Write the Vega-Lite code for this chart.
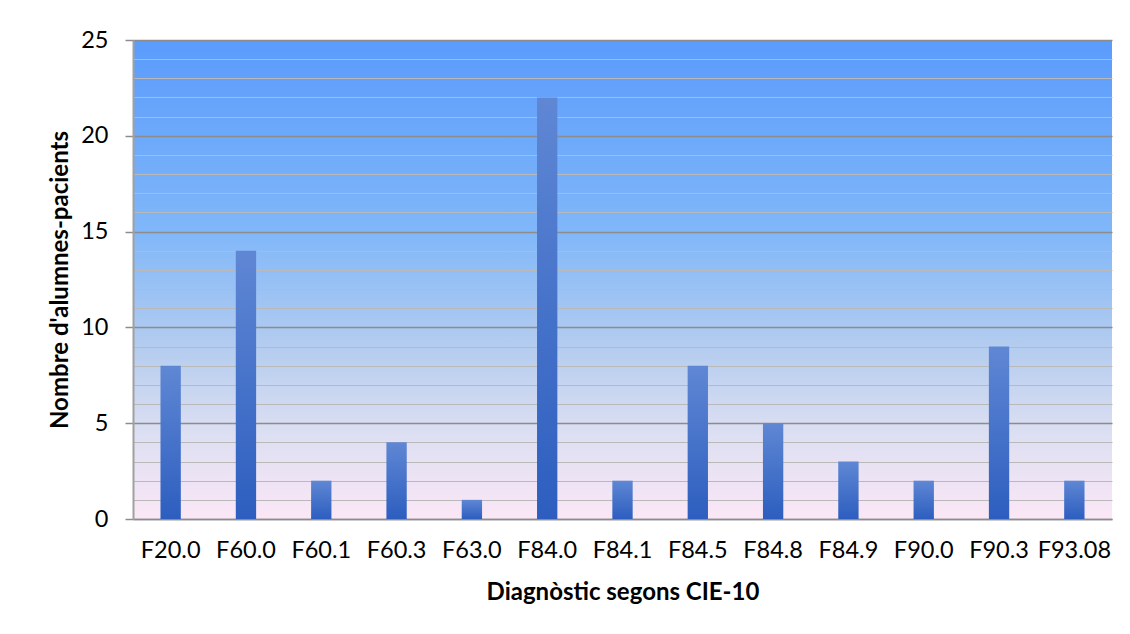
{
  "$schema": "https://vega.github.io/schema/vega-lite/v6.json",
  "autosize": "none",
  "width": 979,
  "height": 479,
  "padding": {"left": 133, "top": 40, "right": 18, "bottom": 115},
  "background": "white",
  "config": {
    "font": "Lato",
    "view": {
      "stroke": null,
      "fill": {
        "gradient": "linear",
        "x1": 0, "y1": 0, "x2": 0, "y2": 1,
        "stops": [
          {"offset": 0, "color": "#5a9bfc"},
          {"offset": 0.4, "color": "#80b7f9"},
          {"offset": 0.65, "color": "#b6cdef"},
          {"offset": 0.82, "color": "#dcdff2"},
          {"offset": 1, "color": "#fbe7f6"}
        ]
      }
    }
  },
  "data": {
    "values": [
      {"diag": "F20.0", "n": 8},
      {"diag": "F60.0", "n": 14},
      {"diag": "F60.1", "n": 2},
      {"diag": "F60.3", "n": 4},
      {"diag": "F63.0", "n": 1},
      {"diag": "F84.0", "n": 22},
      {"diag": "F84.1", "n": 2},
      {"diag": "F84.5", "n": 8},
      {"diag": "F84.8", "n": 5},
      {"diag": "F84.9", "n": 3},
      {"diag": "F90.0", "n": 2},
      {"diag": "F90.3", "n": 9},
      {"diag": "F93.08", "n": 2}
    ]
  },
  "mark": {
    "type": "bar",
    "color": {
      "gradient": "linear",
      "x1": 0, "y1": 0, "x2": 0, "y2": 1,
      "stops": [
        {"offset": 0, "color": "#5f87d4"},
        {"offset": 1, "color": "#2d5ebf"}
      ]
    }
  },
  "encoding": {
    "x": {
      "field": "diag",
      "type": "nominal",
      "sort": null,
      "scale": {"paddingInner": 0.73, "paddingOuter": 0.365},
      "axis": {
        "title": "Diagnòstic segons CIE-10",
        "titleFontSize": 24,
        "titleFontWeight": "bold",
        "titleColor": "#000000",
        "titlePadding": 19,
        "labelAngle": 0,
        "labelFontSize": 23.5,
        "labelColor": "#000000",
        "labelPadding": 19,
        "ticks": false,
        "domainColor": "#8c8c8c",
        "domainWidth": 1.5,
        "grid": false
      }
    },
    "y": {
      "field": "n",
      "type": "quantitative",
      "scale": {"domain": [0, 25], "nice": false},
      "axis": {
        "title": "Nombre d'alumnes-pacients",
        "titleFontSize": 24,
        "titleFontWeight": "bold",
        "titleColor": "#000000",
        "titlePadding": 8,
        "values": [0,1,2,3,4,5,6,7,8,9,10,11,12,13,14,15,16,17,18,19,20,21,22,23,24,25],
        "labelExpr": "datum.value % 5 === 0 ? datum.label : ''",
        "labelFontSize": 23.5,
        "labelColor": "#000000",
        "labelPadding": 17,
        "tickSize": 8,
        "tickColor": {"condition": {"test": "datum.value % 5 === 0", "value": "#8c8c8c"}, "value": "transparent"},
        "tickWidth": 1.5,
        "domainColor": "#a0a0a0",
        "domainWidth": 2,
        "grid": true,
        "gridColor": {"condition": {"test": "datum.value % 5 === 0", "value": "#8c8c8c"}, "value": "#b9b9b9"},
        "gridWidth": {"condition": {"test": "datum.value % 5 === 0", "value": 1.5}, "value": 1.2}
      }
    }
  }
}
